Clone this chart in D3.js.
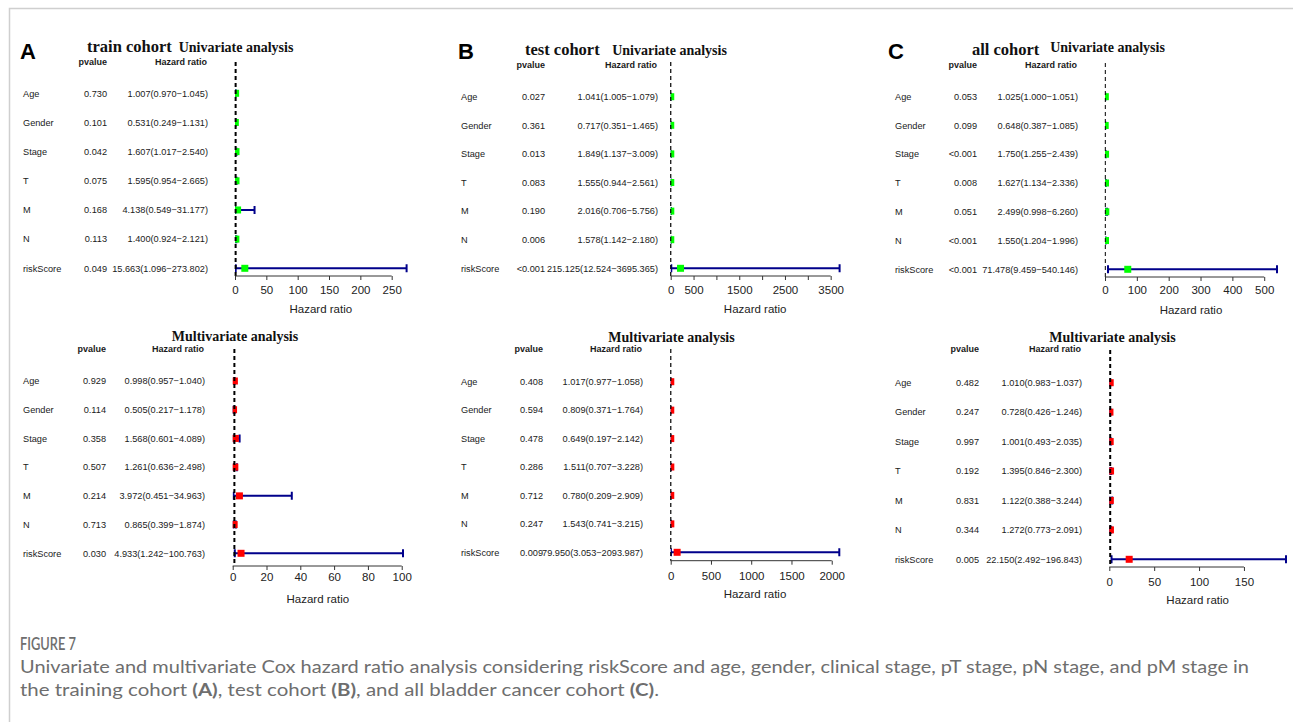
<!DOCTYPE html>
<html>
<head>
<meta charset="utf-8">
<script src="https://cdn.jsdelivr.net/npm/d3@7"></script>
<style>
  body { margin: 0; background: #fff; }
  svg { display: block; }
  .lab { font-family: "Liberation Sans", Arial, sans-serif; font-size: 9.2px; fill: #1a1a1a; }
  .head { font-family: "Liberation Sans", Arial, sans-serif; font-size: 9px; font-weight: bold; fill: #1a1a1a; }
  .title { font-family: "Liberation Serif", "Times New Roman", serif; font-weight: bold; fill: #111; }
  .letter { font-family: "Liberation Sans", Arial, sans-serif; font-size: 22px; font-weight: bold; fill: #000; }
  .axis text { font-family: "Liberation Sans", Arial, sans-serif; font-size: 11.5px; fill: #222; }
  .axis line { stroke: #333; }
  .xlab { font-family: "Liberation Sans", Arial, sans-serif; font-size: 11.5px; fill: #222; }
  .cap { font-family: Lato, "Open Sans", sans-serif; fill: #6e6e6e; }
</style>
</head>
<body>
<div id="chart"></div>
<script>
////////////////////////////////////////////////////////////////////
////////////////////////////  Data  ////////////////////////////////
const variables = ["Age", "Gender", "Stage", "T", "M", "N", "riskScore"];

// train cohort
const trainUniP = ["0.730", "0.101", "0.042", "0.075", "0.168", "0.113", "0.049"];
const trainUniHR = [1.007, 0.531, 1.607, 1.595, 4.138, 1.4, 15.663];
const trainUniLow = [0.97, 0.249, 1.017, 0.954, 0.549, 0.924, 1.096];
const trainUniHigh = [1.045, 1.131, 2.54, 2.665, 31.177, 2.121, 273.802];
const trainUniTicks = [0, 50, 100, 150, 200, 250];

const trainMultiP = ["0.929", "0.114", "0.358", "0.507", "0.214", "0.713", "0.030"];
const trainMultiHR = [0.998, 0.505, 1.568, 1.261, 3.972, 0.865, 4.933];
const trainMultiLow = [0.957, 0.217, 0.601, 0.636, 0.451, 0.399, 1.242];
const trainMultiHigh = [1.04, 1.178, 4.089, 2.498, 34.963, 1.874, 100.763];
const trainMultiTicks = [0, 20, 40, 60, 80, 100];

// test cohort
const testUniP = ["0.027", "0.361", "0.013", "0.083", "0.190", "0.006", "<0.001"];
const testUniHR = [1.041, 0.717, 1.849, 1.555, 2.016, 1.578, 215.125];
const testUniLow = [1.005, 0.351, 1.137, 0.944, 0.706, 1.142, 12.524];
const testUniHigh = [1.079, 1.465, 3.009, 2.561, 5.756, 2.18, 3695.365];
const testUniTicks = [0, 500, 1000, 1500, 2000, 2500, 3000, 3500];
const testUniTickLabels = ["0", "500", "", "1500", "", "2500", "", "3500"];

const testMultiP = ["0.408", "0.594", "0.478", "0.286", "0.712", "0.247", "0.009"];
const testMultiHR = [1.017, 0.809, 0.649, 1.511, 0.78, 1.543, 79.95];
const testMultiLow = [0.977, 0.371, 0.197, 0.707, 0.209, 0.741, 3.053];
const testMultiHigh = [1.058, 1.764, 2.142, 3.228, 2.909, 3.215, 2093.987];
const testMultiTicks = [0, 500, 1000, 1500, 2000];

// all cohort
const allUniP = ["0.053", "0.099", "<0.001", "0.008", "0.051", "<0.001", "<0.001"];
const allUniHR = [1.025, 0.648, 1.75, 1.627, 2.499, 1.55, 71.478];
const allUniLow = [1.0, 0.387, 1.255, 1.134, 0.998, 1.204, 9.459];
const allUniHigh = [1.051, 1.085, 2.439, 2.336, 6.26, 1.996, 540.146];
const allUniTicks = [0, 100, 200, 300, 400, 500];

const allMultiP = ["0.482", "0.247", "0.997", "0.192", "0.831", "0.344", "0.005"];
const allMultiHR = [1.01, 0.728, 1.001, 1.395, 1.122, 1.272, 22.15];
const allMultiLow = [0.983, 0.426, 0.493, 0.846, 0.388, 0.773, 2.492];
const allMultiHigh = [1.037, 1.246, 2.035, 2.3, 3.244, 2.091, 196.843];
const allMultiTicks = [0, 50, 100, 150];

////////////////////////////////////////////////////////////////////
////////////////////////////  Layout  //////////////////////////////
const width = 1293;
const height = 722;

const panels = [
  { letter: "A", cohort: "train cohort", title: "Univariate analysis", color: "#00ff00",
    p: trainUniP, hr: trainUniHR, lo: trainUniLow, hi: trainUniHigh, ticks: trainUniTicks,
    pos: { letterX: 20, letterY: 59, cohortX: 87, cohortY: 52, titleX: 236, titleY: 52,
      labelX: 23, pX: 107, hrX: 208, headY: 65, rowTop: 93.3, rowBot: 268.3,
      x0: 235, x1: 406.6, axisY: 276, dashTop: 62, dashW: 2, tickPad: 6 } },
  { title: "Multivariate analysis", color: "#ff0000",
    p: trainMultiP, hr: trainMultiHR, lo: trainMultiLow, hi: trainMultiHigh, ticks: trainMultiTicks,
    pos: { titleX: 235, titleY: 341,
      labelX: 23, pX: 106, hrX: 205, headY: 352.3, rowTop: 381, rowBot: 553.3,
      x0: 232.7, x1: 403, axisY: 566, dashTop: 349, dashW: 2, tickPad: 3 } },
  { letter: "B", cohort: "test cohort", title: "Univariate analysis", color: "#00ff00",
    p: testUniP, hr: testUniHR, lo: testUniLow, hi: testUniHigh, ticks: testUniTicks, tickLabels: testUniTickLabels,
    pos: { letterX: 458, letterY: 59, cohortX: 525, cohortY: 54.5, titleX: 669.5, titleY: 55,
      labelX: 461, pX: 545, hrX: 658, headY: 68.3, rowTop: 96.7, rowBot: 268.3,
      x0: 670.7, x1: 839.6, axisY: 276, dashTop: 62, dashW: 1.2, tickPad: 6 } },
  { title: "Multivariate analysis", color: "#ff0000",
    p: testMultiP, hr: testMultiHR, lo: testMultiLow, hi: testMultiHigh, ticks: testMultiTicks,
    pos: { titleX: 671.5, titleY: 342,
      labelX: 461, pX: 543, hrX: 643, headY: 352.3, rowTop: 381.7, rowBot: 552.3,
      x0: 670.7, x1: 839.3, axisY: 560.7, dashTop: 349, dashW: 1.2, tickPad: 7 } },
  { letter: "C", cohort: "all cohort", title: "Univariate analysis", color: "#00ff00",
    p: allUniP, hr: allUniHR, lo: allUniLow, hi: allUniHigh, ticks: allUniTicks,
    pos: { letterX: 888, letterY: 58.5, cohortX: 972, cohortY: 55, titleX: 1107.5, titleY: 52,
      labelX: 895, pX: 977, hrX: 1078, headY: 68.3, rowTop: 96.7, rowBot: 269.3,
      x0: 1105, x1: 1277, axisY: 277, dashTop: 63, dashW: 1, tickPad: 5 } },
  { title: "Multivariate analysis", color: "#ff0000",
    p: allMultiP, hr: allMultiHR, lo: allMultiLow, hi: allMultiHigh, ticks: allMultiTicks,
    pos: { titleX: 1112.5, titleY: 342,
      labelX: 895, pX: 979, hrX: 1082, headY: 352.3, rowTop: 382.7, rowBot: 559.3,
      x0: 1109.3, x1: 1286, axisY: 567, dashTop: 350, dashW: 2, tickPad: 7 } },
];

const fmt = d3.format(".3f");

////////////////////////////////////////////////////////////////////
////////////////////////////  Draw  ////////////////////////////////
const svg = d3.select("#chart").append("svg")
  .attr("width", width)
  .attr("height", height);

// page frame
svg.append("path")
  .attr("d", `M9.5,${height}V8.5H${width}`)
  .attr("fill", "none")
  .attr("stroke", "#cfcfcf")
  .attr("stroke-width", 1.5);

const defs = svg.append("defs");

panels.forEach((pn, k) => {
  const o = pn.pos;
  const g = svg.append("g");

  const x = d3.scaleLinear().domain([0, d3.max(pn.hi)]).range([o.x0, o.x1]);
  const y = d3.scalePoint().domain(variables).range([o.rowTop, o.rowBot]);

  // headings
  if (pn.letter) {
    g.append("text").attr("class", "letter").attr("x", o.letterX).attr("y", o.letterY).text(pn.letter);
    g.append("text").attr("class", "title").attr("x", o.cohortX).attr("y", o.cohortY)
      .style("font-size", "16.5px").text(pn.cohort);
  }
  g.append("text").attr("class", "title").attr("x", o.titleX).attr("y", o.titleY)
    .attr("text-anchor", "middle").style("font-size", "14px").text(pn.title);

  // table
  g.append("text").attr("class", "head").attr("x", o.pX).attr("y", o.headY)
    .attr("text-anchor", "end").text("pvalue");
  g.append("text").attr("class", "head").attr("x", o.hrX - 1).attr("y", o.headY)
    .attr("text-anchor", "end").text("Hazard ratio");

  const rows = variables.map((v, i) => ({
    v, p: pn.p[i], hr: pn.hr[i], lo: pn.lo[i], hi: pn.hi[i],
  }));

  g.selectAll(".rowlab").data(rows).enter().append("text")
    .attr("class", "lab").attr("x", o.labelX).attr("y", (d) => y(d.v)).attr("dy", "0.35em")
    .text((d) => d.v);
  g.selectAll(".pval").data(rows).enter().append("text")
    .attr("class", "lab").attr("x", o.pX).attr("y", (d) => y(d.v)).attr("dy", "0.35em")
    .attr("text-anchor", "end").text((d) => d.p);
  g.selectAll(".hrtxt").data(rows).enter().append("text")
    .attr("class", "lab").attr("x", o.hrX).attr("y", (d) => y(d.v)).attr("dy", "0.35em")
    .attr("text-anchor", "end")
    .text((d) => `${fmt(d.hr)}(${fmt(d.lo)}\u2212${fmt(d.hi)})`);

  // plot region clip
  const clipId = "clip" + k;
  defs.append("clipPath").attr("id", clipId).append("rect")
    .attr("x", o.x0).attr("y", o.dashTop - 10)
    .attr("width", o.x1 - o.x0 + 2).attr("height", o.axisY - o.dashTop + 10);
  const plot = g.append("g").attr("clip-path", `url(#${clipId})`);

  // whiskers
  const cap = 4;
  plot.selectAll(".ci").data(rows).enter().append("path")
    .attr("d", (d) => {
      const yy = y(d.v), a = x(d.lo), b = x(d.hi);
      return `M${a},${yy}H${b}M${a},${yy - cap}V${yy + cap}M${b},${yy - cap}V${yy + cap}`;
    })
    .attr("fill", "none")
    .attr("stroke", "#00008b")
    .attr("stroke-width", 2);

  // reference line HR = 1
  g.append("line")
    .attr("x1", x(1)).attr("x2", x(1))
    .attr("y1", o.dashTop).attr("y2", o.axisY)
    .attr("stroke", "#000")
    .attr("stroke-width", o.dashW)
    .attr("stroke-dasharray", "4,3");

  // boxes
  const bs = 7;
  plot.selectAll(".box").data(rows).enter().append("rect")
    .attr("x", (d) => x(d.hr) - bs / 2)
    .attr("y", (d) => y(d.v) - bs / 2)
    .attr("width", bs).attr("height", bs)
    .attr("fill", pn.color);

  // x axis
  const xAxis = d3.axisBottom(x)
    .tickValues(pn.ticks)
    .tickSize(4)
    .tickPadding(o.tickPad)
    .tickFormat((d, i) => (pn.tickLabels ? pn.tickLabels[i] : d3.format("d")(d)));
  const ax = g.append("g").attr("class", "axis")
    .attr("transform", `translate(0,${o.axisY})`)
    .call(xAxis);
  ax.select(".domain").remove();
  ax.append("line")
    .attr("x1", x(pn.ticks[0])).attr("x2", x(pn.ticks[pn.ticks.length - 1]))
    .attr("stroke", "#333");

  g.append("text").attr("class", "xlab")
    .attr("x", (o.x0 + o.x1) / 2).attr("y", o.axisY + 37)
    .attr("text-anchor", "middle").text("Hazard ratio");
});

////////////////////////////////////////////////////////////////////
////////////////////////////  Caption  /////////////////////////////
svg.append("text").attr("class", "cap")
  .attr("x", 20).attr("y", 650)
  .attr("textLength", 56).attr("lengthAdjust", "spacingAndGlyphs")
  .style("font-size", "18px").style("font-weight", 600)
  .text("FIGURE 7");

svg.append("text").attr("class", "cap")
  .attr("x", 20).attr("y", 673)
  .attr("textLength", 1229).attr("lengthAdjust", "spacingAndGlyphs")
  .style("font-size", "16.5px")
  .text("Univariate and multivariate Cox hazard ratio analysis considering riskScore and age, gender, clinical stage, pT stage, pN stage, and pM stage in");

const line2 = svg.append("text").attr("class", "cap")
  .attr("x", 20).attr("y", 696)
  .attr("textLength", 639).attr("lengthAdjust", "spacingAndGlyphs")
  .style("font-size", "16.5px");
[["the training cohort ", false], ["(A)", true], [", test cohort ", false], ["(B)", true],
 [", and all bladder cancer cohort ", false], ["(C)", true], [".", false]]
  .forEach(([t, b]) => {
    line2.append("tspan").style("font-weight", b ? "bold" : "normal").text(t);
  });
</script>
</body>
</html>
